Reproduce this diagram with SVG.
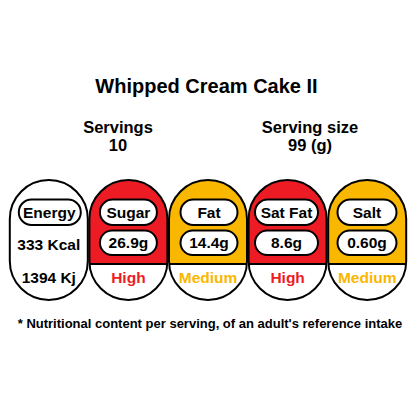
<svg xmlns="http://www.w3.org/2000/svg" width="414" height="414" viewBox="0 0 414 414">
<style>
text{font-family:"Liberation Sans",Arial,sans-serif;font-weight:bold;text-anchor:middle;fill:#000}
.t{font-size:20px}
.h{font-size:16.5px}
.c{font-size:15.5px}
.f{font-size:13px}
.cap{fill:none;stroke:#000;stroke-width:2}
.pill{fill:#fff;stroke:#000;stroke-width:2}
.div{stroke:#000;stroke-width:2}
.red{fill:#ED1C24}
.amb{fill:#FAB700}
.hi{fill:#ED1C24}
.md{fill:#FAB700}
</style>
<rect width="414" height="414" fill="#fff"/>
<g id="header">
<text class="t" x="206.5" y="93">Whipped Cream Cake II</text>
<text class="h" x="118" y="132.5">Servings</text>
<text class="h" x="118" y="150.5">10</text>
<text class="h" x="310" y="132.5">Serving size</text>
<text class="h" x="310" y="150.5">99 (g)</text>
</g>
<g id="energy">
<rect class="cap" x="9.8" y="180" width="78" height="120" rx="39" ry="39" fill="#fff"/>
<rect class="pill" x="18.8" y="199.5" width="62" height="25.5" rx="12.75"/>
<text class="c" x="49.3" y="218">Energy</text>
<text class="c" x="48.8" y="250">333 Kcal</text>
<text class="c" x="48.8" y="283">1394 Kj</text>
</g>
<g id="sugar">
<path class="red" d="M89.4,264 V219.4 A39,39 0 0 1 167.4,219.4 V264 Z"/>
<line class="div" x1="89.4" y1="264" x2="167.4" y2="264"/>
<rect class="cap" x="89.4" y="180" width="78" height="120" rx="39" ry="39"/>
<rect class="pill" x="99.9" y="199.5" width="57" height="25.5" rx="12.75"/>
<text class="c" x="128.4" y="218">Sugar</text>
<rect class="pill" x="99.9" y="230.5" width="57" height="24.5" rx="12.25"/>
<text class="c" x="128.4" y="248.3">26.9g</text>
<text class="c hi" x="128.4" y="282.5">High</text>
</g>
<g id="fat">
<path class="amb" d="M169,264 V219.4 A39,39 0 0 1 247,219.4 V264 Z"/>
<line class="div" x1="169" y1="264" x2="247" y2="264"/>
<rect class="cap" x="169" y="180" width="78" height="120" rx="39" ry="39"/>
<rect class="pill" x="180.5" y="199.5" width="57" height="25.5" rx="12.75"/>
<text class="c" x="209" y="218">Fat</text>
<rect class="pill" x="180.5" y="230.5" width="57" height="24.5" rx="12.25"/>
<text class="c" x="209" y="248.3">14.4g</text>
<text class="c md" x="208" y="282.5">Medium</text>
</g>
<g id="satfat">
<path class="red" d="M248.6,264 V219.4 A39,39 0 0 1 326.6,219.4 V264 Z"/>
<line class="div" x1="248.6" y1="264" x2="326.6" y2="264"/>
<rect class="cap" x="248.6" y="180" width="78" height="120" rx="39" ry="39"/>
<rect class="pill" x="255" y="199.5" width="63" height="25.5" rx="12.75"/>
<text class="c" x="286.5" y="218">Sat Fat</text>
<rect class="pill" x="255" y="230.5" width="63" height="24.5" rx="12.25"/>
<text class="c" x="286.5" y="248.3">8.6g</text>
<text class="c hi" x="287.6" y="282.5">High</text>
</g>
<g id="salt">
<path class="amb" d="M328.2,264 V219.4 A39,39 0 0 1 406.2,219.4 V264 Z"/>
<line class="div" x1="328.2" y1="264" x2="406.2" y2="264"/>
<rect class="cap" x="328.2" y="180" width="78" height="120" rx="39" ry="39"/>
<rect class="pill" x="337.5" y="199.5" width="59" height="25.5" rx="12.75"/>
<text class="c" x="367" y="218">Salt</text>
<rect class="pill" x="337.5" y="230.5" width="59" height="24.5" rx="12.25"/>
<text class="c" x="367" y="248.3">0.60g</text>
<text class="c md" x="367.2" y="282.5">Medium</text>
</g>
<g id="connectors"></g>
<g id="footnote">
<text class="f" x="210" y="328">* Nutritional content per serving, of an adult's reference intake</text>
</g>
</svg>
